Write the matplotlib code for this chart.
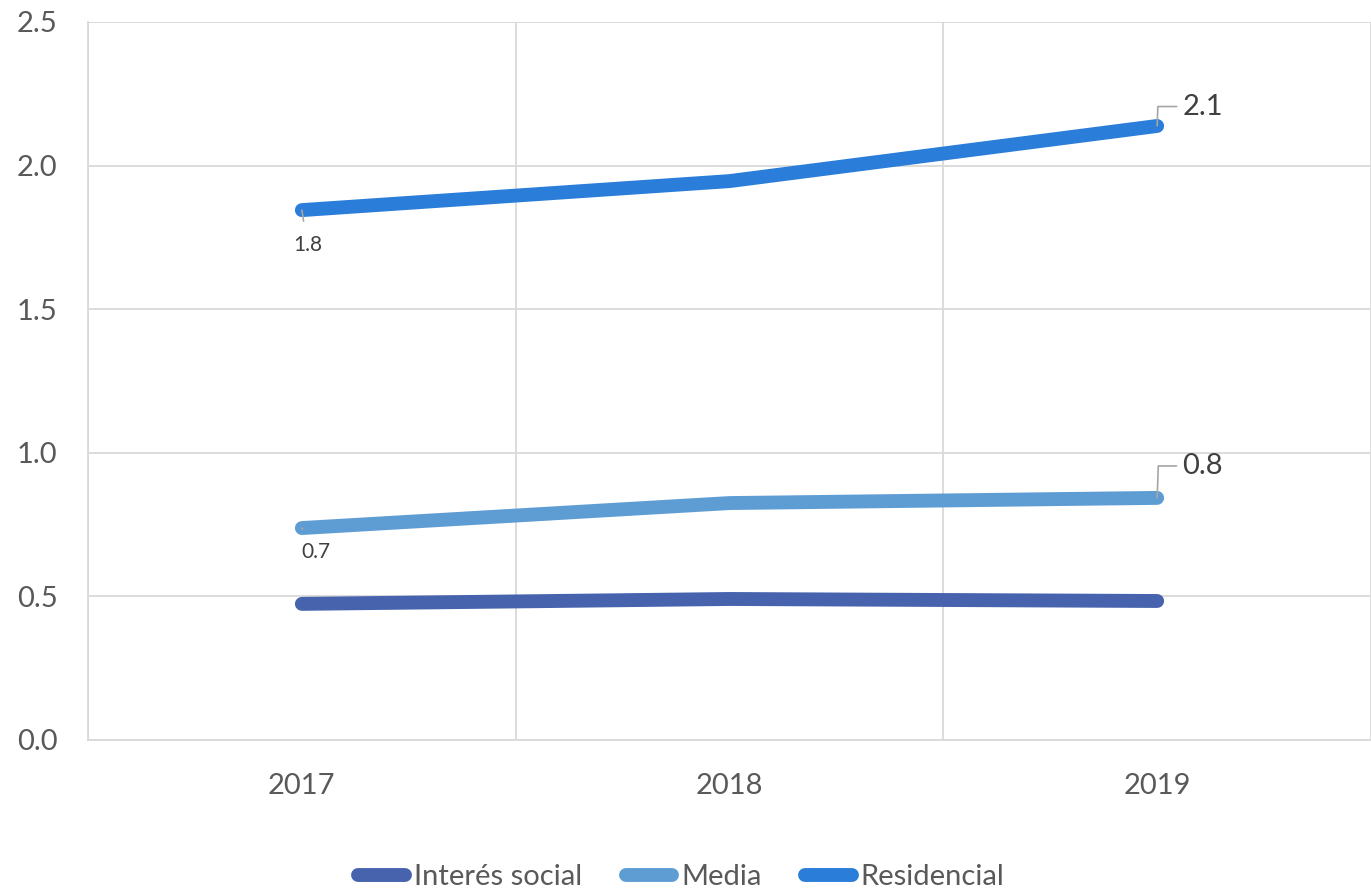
import matplotlib.pyplot as plt
from matplotlib.ticker import FixedLocator, FormatStrFormatter

plt.rcParams['font.family'] = ['Lato', 'DejaVu Sans']

years = ['2017', '2018', '2019']
interes_social = [0.474, 0.491, 0.484]
media = [0.738, 0.825, 0.843]
residencial = [1.845, 1.946, 2.138]

series = [
    ('Interés social', interes_social, '#4763AE'),
    ('Media', media, '#5E9DD4'),
    ('Residencial', residencial, '#2A7DD8'),
]

fig = plt.figure(figsize=(13.71, 8.93), dpi=100)
ax = fig.add_axes([88 / 1371, 153 / 893, 1 - 88 / 1371, 718 / 893])

x = list(range(len(years)))
for name, vals, color in series:
    ax.plot(x, vals, color=color, lw=10, solid_capstyle='round',
            solid_joinstyle='round', label=name, zorder=3)

ax.set_xlim(-0.5, 2.5)
ax.set_ylim(0, 2.5)
ax.set_yticks([0, 0.5, 1.0, 1.5, 2.0, 2.5])
ax.yaxis.set_major_formatter(FormatStrFormatter('%.1f'))
ax.set_xticks(x)
ax.set_xticklabels(years)
ax.xaxis.set_minor_locator(FixedLocator([-0.5, 0.5, 1.5, 2.5]))

grid_c = '#D9D9D9'
ax.grid(axis='y', which='major', color=grid_c, lw=1.3)
ax.grid(axis='x', which='minor', color=grid_c, lw=1.3)
ax.grid(axis='x', which='major', visible=False)
ax.set_axisbelow(True)
for side in ['top', 'right']:
    ax.spines[side].set_visible(False)
ax.spines['left'].set_color(grid_c)
ax.spines['bottom'].set_color(grid_c)
ax.spines['left'].set_linewidth(1.3)
ax.spines['bottom'].set_linewidth(1.3)

ax.tick_params(axis='both', which='both', length=0, labelsize=21,
               labelcolor='#595959')
ax.tick_params(axis='x', pad=24)
ax.tick_params(axis='y', pad=22)

lead = dict(color='#A6A6A6', lw=1.2)

# first-year labels, small, below the point
for vals, off in ((residencial, (4, -25)), (media, (10, -17))):
    ax.annotate(f'{vals[0]:.1f}', xy=(0, vals[0]), xytext=off,
                textcoords='offset points', ha='center', va='center',
                fontsize=15, color='#404040',
                arrowprops=dict(arrowstyle='-', shrinkA=8, shrinkB=0, **lead))

# last-year labels, larger, with elbow leader lines
for vals, off in ((residencial, (18, 14)), (media, (18, 23))):
    ax.annotate(f'{vals[2]:.1f}', xy=(2, vals[2]), xytext=off,
                textcoords='offset points', ha='left', va='center',
                fontsize=21, color='#404040',
                arrowprops=dict(arrowstyle='-', shrinkA=2, shrinkB=0,
                                connectionstyle='angle,angleA=0,angleB=88,rad=0',
                                **lead))

leg = fig.legend(loc='lower center', bbox_to_anchor=(0.497, -0.026), ncol=3,
                 frameon=False, fontsize=21, handlelength=1.6,
                 handletextpad=0.3, columnspacing=1.5)
for t in leg.get_texts():
    t.set_color('#595959')

fig.savefig('out.png', dpi=100)
